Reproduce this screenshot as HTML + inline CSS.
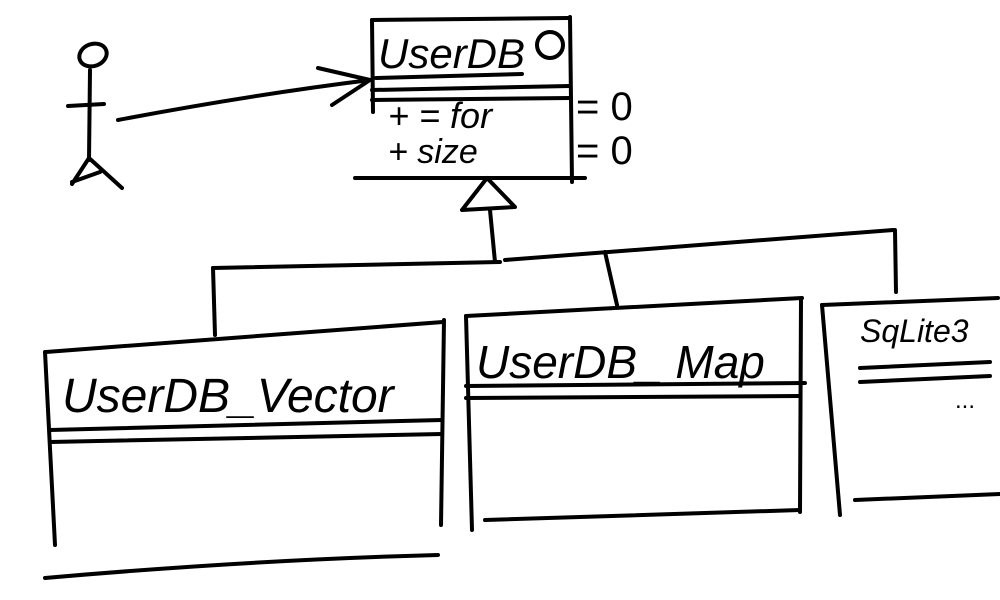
<!DOCTYPE html>
<html><head><meta charset="utf-8"><style>
html,body{margin:0;padding:0;background:#fff;width:1000px;height:600px;overflow:hidden}
text{font-family:"Liberation Sans",sans-serif;fill:#000}
</style></head><body>
<svg width="1000" height="600" viewBox="0 0 1000 600" xmlns="http://www.w3.org/2000/svg" fill="none" stroke="#000" stroke-width="4" stroke-linecap="round" stroke-linejoin="round">
<!-- actor -->
<ellipse cx="93" cy="55" rx="14" ry="11" transform="rotate(-20 93 55)"/>
<path d="M90 70 L89 160"/>
<path d="M68 106 L104 104"/>
<path d="M89 158 L72 184 M89 158 L122 188 M72 182 L100 172"/>
<!-- arrow -->
<path d="M118 120 Q250 95 370 80"/>
<path d="M318 68 L370 80 L332 105"/>
<!-- UserDB box -->
<path d="M372 20 L373 112"/>
<path d="M372 20 L568 18"/>
<path d="M570 17 L572 182"/>
<path d="M376 78 L522 74"/>
<path d="M372 90 L570 86"/>
<path d="M372 100 L570 98"/>
<path d="M355 178 L585 178"/>
<circle cx="550" cy="45" r="13"/>
<text x="378" y="68" font-size="42" stroke="none" font-style="italic">UserDB</text>
<text x="388" y="128" font-size="36" stroke="none" font-style="italic">+ = for</text>
<text x="576" y="120" font-size="40" stroke="none">= 0</text>
<text x="388" y="163" font-size="34" stroke="none" font-style="italic">+ size</text>
<text x="576" y="164" font-size="40" stroke="none">= 0</text>
<!-- inheritance -->
<path d="M487 178 L462 210 L515 207 Z"/>
<path d="M490 210 L495 262"/>
<path d="M213 268 L500 262 M505 260 Q700 245 893 230"/>
<path d="M895 230 L896 292"/>
<path d="M213 268 L215 335"/>
<path d="M605 252 L617 305"/>
<!-- Vector box -->
<path d="M46 352 L443 322"/>
<path d="M45 352 L55 545"/>
<path d="M444 320 L441 525"/>
<path d="M50 430 L442 420"/>
<path d="M50 442 L442 434"/>
<path d="M45 578 Q250 560 438 555"/>
<text x="62" y="412" font-size="48" stroke="none" font-style="italic">UserDB_Vector</text>
<!-- Map box -->
<path d="M466 316 L802 298"/>
<path d="M466 316 L472 530"/>
<path d="M801 300 L800 512"/>
<path d="M466 386 L805 383"/>
<path d="M466 398 L800 396"/>
<path d="M485 520 L800 510"/>
<text x="476" y="378" font-size="46" stroke="none" font-style="italic">UserDB_ Map</text>
<!-- SQLite box -->
<path d="M822 305 L998 298"/>
<path d="M822 305 L840 515"/>
<path d="M860 368 L990 362"/>
<path d="M860 382 L990 376"/>
<path d="M855 500 L1000 494"/>
<text x="860" y="342" font-size="32" stroke="none" font-style="italic">SqLite3</text>
<text x="955" y="408" font-size="24" stroke="none">...</text>
</svg>
</body></html>
